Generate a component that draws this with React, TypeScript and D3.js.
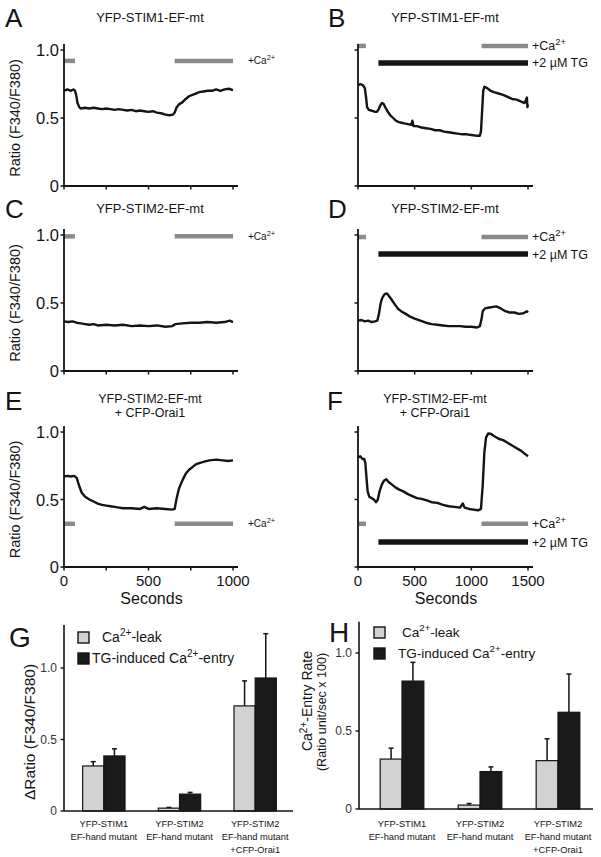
import React from 'react';
import * as d3 from 'd3';

const FONT = "'Liberation Sans', Arial, Helvetica, sans-serif";
const INK = '#141414';
const GREY = '#8a8a8a';

// ---------- Traces: [seconds, ratio F340/F380] ----------
const traceA: [number, number][] = [
  [0, 0.70], [20, 0.71], [40, 0.70], [55, 0.71], [65, 0.70], [72, 0.67], [80, 0.61], [90, 0.58], [100, 0.57],
  [125, 0.575], [150, 0.57], [175, 0.575], [200, 0.57], [225, 0.565], [250, 0.57], [275, 0.565], [300, 0.56],
  [325, 0.565], [350, 0.56], [375, 0.555], [400, 0.56], [425, 0.55], [450, 0.555], [475, 0.55], [500, 0.545],
  [525, 0.55], [550, 0.54], [575, 0.535], [600, 0.525], [625, 0.52], [645, 0.525], [655, 0.54], [665, 0.575],
  [680, 0.60], [700, 0.615], [720, 0.64], [740, 0.66], [760, 0.67], [780, 0.68], [800, 0.69], [825, 0.695],
  [850, 0.70], [875, 0.70], [900, 0.71], [925, 0.70], [950, 0.71], [975, 0.715], [1000, 0.705]
];
const traceB: [number, number][] = [
  [0, 0.74], [20, 0.75], [45, 0.74], [60, 0.72], [70, 0.66], [80, 0.58], [95, 0.56], [115, 0.555], [135, 0.55],
  [150, 0.545], [165, 0.545], [180, 0.56], [195, 0.59], [210, 0.61], [225, 0.605], [240, 0.58], [260, 0.55],
  [285, 0.52], [310, 0.50], [335, 0.48], [360, 0.47], [385, 0.465], [410, 0.46], [440, 0.455], [470, 0.45],
  [480, 0.48], [490, 0.44], [520, 0.44], [560, 0.43], [600, 0.425], [640, 0.42], [680, 0.41], [720, 0.41],
  [760, 0.40], [800, 0.395], [840, 0.39], [880, 0.385], [920, 0.38], [960, 0.38], [1000, 0.375], [1040, 0.37],
  [1075, 0.37], [1085, 0.40], [1095, 0.55], [1105, 0.70], [1115, 0.73], [1140, 0.72], [1170, 0.70], [1200, 0.69],
  [1240, 0.68], [1280, 0.67], [1320, 0.655], [1360, 0.64], [1400, 0.635], [1440, 0.62], [1470, 0.61],
  [1490, 0.65], [1495, 0.58], [1500, 0.60]
];
const traceC: [number, number][] = [
  [0, 0.365], [25, 0.36], [50, 0.365], [75, 0.355], [100, 0.35], [125, 0.345], [150, 0.34], [175, 0.345],
  [200, 0.335], [250, 0.34], [300, 0.335], [350, 0.34], [400, 0.33], [450, 0.335], [500, 0.33], [550, 0.335],
  [600, 0.325], [640, 0.33], [660, 0.345], [700, 0.35], [750, 0.355], [800, 0.355], [850, 0.36], [900, 0.355],
  [950, 0.36], [980, 0.37], [1000, 0.36]
];
const traceD: [number, number][] = [
  [0, 0.37], [30, 0.375], [60, 0.365], [90, 0.37], [120, 0.36], [150, 0.365], [170, 0.37], [185, 0.42],
  [200, 0.50], [215, 0.54], [235, 0.565], [255, 0.57], [275, 0.55], [300, 0.52], [325, 0.49], [350, 0.46],
  [380, 0.44], [420, 0.42], [460, 0.40], [500, 0.385], [550, 0.37], [600, 0.355], [650, 0.345], [700, 0.34],
  [750, 0.335], [800, 0.33], [850, 0.33], [900, 0.33], [950, 0.325], [1000, 0.325], [1050, 0.32], [1075, 0.33],
  [1090, 0.38], [1100, 0.44], [1120, 0.46], [1150, 0.465], [1180, 0.47], [1220, 0.475], [1260, 0.46],
  [1300, 0.44], [1340, 0.43], [1380, 0.43], [1420, 0.42], [1460, 0.425], [1490, 0.44], [1500, 0.43]
];
const traceE: [number, number][] = [
  [0, 0.67], [20, 0.675], [40, 0.67], [60, 0.675], [75, 0.66], [90, 0.60], [105, 0.55], [125, 0.52],
  [150, 0.50], [175, 0.485], [200, 0.47], [225, 0.46], [250, 0.455], [275, 0.45], [300, 0.445], [325, 0.44],
  [350, 0.435], [400, 0.435], [450, 0.43], [475, 0.445], [500, 0.43], [550, 0.435], [600, 0.43], [640, 0.425],
  [655, 0.43], [665, 0.50], [680, 0.58], [700, 0.64], [720, 0.69], [740, 0.72], [760, 0.74], [780, 0.76],
  [800, 0.77], [830, 0.78], [860, 0.79], [900, 0.795], [940, 0.79], [970, 0.785], [1000, 0.79]
];
const traceF: [number, number][] = [
  [0, 0.81], [20, 0.82], [40, 0.80], [55, 0.80], [65, 0.77], [75, 0.66], [85, 0.56], [100, 0.52], [120, 0.51],
  [140, 0.50], [160, 0.48], [175, 0.50], [190, 0.56], [210, 0.61], [230, 0.64], [250, 0.65], [270, 0.63],
  [300, 0.61], [330, 0.59], [360, 0.575], [400, 0.56], [440, 0.54], [480, 0.525], [520, 0.51], [560, 0.505],
  [600, 0.495], [650, 0.48], [700, 0.475], [750, 0.46], [800, 0.45], [850, 0.445], [900, 0.44], [925, 0.47],
  [940, 0.44], [980, 0.43], [1020, 0.425], [1060, 0.42], [1085, 0.43], [1100, 0.60], [1115, 0.85],
  [1130, 0.96], [1150, 0.99], [1175, 0.985], [1200, 0.97], [1240, 0.95], [1280, 0.94], [1320, 0.92],
  [1360, 0.90], [1400, 0.88], [1440, 0.86], [1470, 0.84], [1500, 0.82]
];

// treatment bars [start s, end s]
const caShort: [number, number][] = [[0, 65], [655, 1000]];
const caLong: [number, number][] = [[0, 70], [1090, 1500]];
const tgLong: [number, number][] = [[180, 1500]];

const ticksShort = [0, 250, 500, 750, 1000];
const ticksLong = [0, 500, 1000, 1500];
const yTicks = [0, 0.5, 1.0];

// ---------- Bar charts ----------
const categories = ['STIM1', 'STIM2', 'STIM2+Orai1'];
const catLabels = [
  ['YFP-STIM1', 'EF-hand mutant'],
  ['YFP-STIM2', 'EF-hand mutant'],
  ['YFP-STIM2', 'EF-hand mutant', '+CFP-Orai1']
];
const seriesKeys = ['leak', 'entry'];
const leakG = [0.315, 0.02, 0.735];
const leakErrG = [0.03, 0.005, 0.175];
const entryG = [0.385, 0.118, 0.93];
const entryErrG = [0.05, 0.012, 0.31];
const leakH = [0.32, 0.025, 0.31];
const leakErrH = [0.07, 0.01, 0.14];
const entryH = [0.82, 0.24, 0.62];
const entryErrH = [0.12, 0.03, 0.245];

type Panel = {
  letter: string; lx: number; ly: number;
  title: string[]; tx: number; tyBase: number;
  data: [number, number][]; tMax: number; xTicks: number[];
  x0: number; x1: number; yb: number; yt: number;
  yLabels: boolean; xLabels: boolean;
  ca: [number, number][]; caLevel: number;
  tg?: [number, number][]; tgLevel?: number;
  small: boolean;
};

const panels: Panel[] = [
  { letter: 'A', lx: 5, ly: 27, title: ['YFP-STIM1-EF-mt'], tx: 150, tyBase: 22, data: traceA, tMax: 1000, xTicks: ticksShort,
    x0: 64, x1: 233, yb: 186, yt: 50, yLabels: true, xLabels: false, ca: caShort, caLevel: 0.92, small: true },
  { letter: 'B', lx: 328, ly: 27, title: ['YFP-STIM1-EF-mt'], tx: 445, tyBase: 22, data: traceB, tMax: 1500, xTicks: ticksLong,
    x0: 358, x1: 528, yb: 186, yt: 50, yLabels: false, xLabels: false, ca: caLong, caLevel: 1.03, tg: tgLong, tgLevel: 0.905, small: false },
  { letter: 'C', lx: 5, ly: 218, title: ['YFP-STIM2-EF-mt'], tx: 150, tyBase: 213, data: traceC, tMax: 1000, xTicks: ticksShort,
    x0: 64, x1: 233, yb: 371, yt: 235, yLabels: true, xLabels: false, ca: caShort, caLevel: 0.99, small: true },
  { letter: 'D', lx: 328, ly: 218, title: ['YFP-STIM2-EF-mt'], tx: 445, tyBase: 213, data: traceD, tMax: 1500, xTicks: ticksLong,
    x0: 358, x1: 528, yb: 371, yt: 235, yLabels: false, xLabels: false, ca: caLong, caLevel: 0.985, tg: tgLong, tgLevel: 0.86, small: false },
  { letter: 'E', lx: 5, ly: 410, title: ['YFP-STIM2-EF-mt', '+ CFP-Orai1'], tx: 150, tyBase: 403, data: traceE, tMax: 1000, xTicks: ticksShort,
    x0: 64, x1: 233, yb: 567, yt: 432, yLabels: true, xLabels: true, ca: caShort, caLevel: 0.32, small: true },
  { letter: 'F', lx: 327, ly: 410, title: ['YFP-STIM2-EF-mt', '+ CFP-Orai1'], tx: 435, tyBase: 403, data: traceF, tMax: 1500, xTicks: ticksLong,
    x0: 358, x1: 528, yb: 567, yt: 432, yLabels: false, xLabels: true, ca: caLong, caLevel: 0.32, tg: tgLong, tgLevel: 0.185, small: false }
];

function CaLabel({ x, y, size }: { x: number; y: number; size: number }) {
  return (
    <text x={x} y={y} fontSize={size} fontFamily={FONT} fill={INK}>
      +Ca<tspan dy={-size * 0.4} fontSize={size * 0.75}>2+</tspan>
    </text>
  );
}

function TracePanel({ p }: { p: Panel }) {
  const x = d3.scaleLinear().domain([0, p.tMax]).range([p.x0, p.x1]);
  const y = d3.scaleLinear().domain([0, 1]).range([p.yb, p.yt]);
  const line = d3.line<[number, number]>().x(d => x(d[0])).y(d => y(d[1]));
  const caY = y(p.caLevel);
  const titleSize = p.title.length > 1 ? 12.5 : 13;
  return (
    <g>
      <text x={p.lx} y={p.ly} fontSize={26} fontFamily={FONT} fill={INK}>{p.letter}</text>
      {p.title.map((t, i) => (
        <text key={i} x={p.tx} y={p.tyBase + i * 13.5} fontSize={titleSize} fontFamily={FONT} textAnchor="middle" fill={INK}>{t}</text>
      ))}
      {/* treatment bars */}
      {p.ca.map((b, i) => (
        <line key={'ca' + i} x1={x(b[0])} x2={x(b[1])} y1={caY} y2={caY} stroke={GREY} strokeWidth={4.5} />
      ))}
      <CaLabel x={p.small ? 248 : 532} y={caY + (p.small ? 3.5 : 4)} size={p.small ? 10 : 12.5} />
      {p.tg && p.tgLevel !== undefined && (
        <g>
          {p.tg.map((b, i) => (
            <line key={'tg' + i} x1={x(b[0])} x2={x(b[1])} y1={y(p.tgLevel!)} y2={y(p.tgLevel!)} stroke={INK} strokeWidth={5.5} />
          ))}
          <text x={532} y={y(p.tgLevel) + 4.5} fontSize={12.5} fontFamily={FONT} fill={INK}>+2 µM TG</text>
        </g>
      )}
      {/* trace */}
      <path d={line(p.data) || ''} fill="none" stroke={INK} strokeWidth={2.4} strokeLinejoin="round" />
      {/* axes */}
      <line x1={p.x0} x2={p.x0} y1={y(0) + 1} y2={y(1.045)} stroke={INK} strokeWidth={1.8} />
      <line x1={p.x0 - 1} x2={x(p.tMax) + 5} y1={y(0)} y2={y(0)} stroke={INK} strokeWidth={1.8} />
      {p.xTicks.map(t => (
        <line key={'xt' + t} x1={x(t)} x2={x(t)} y1={y(0)} y2={y(0) + 3.5} stroke={INK} strokeWidth={1.5} />
      ))}
      {yTicks.map(t => (
        <line key={'yt' + t} x1={p.x0 - 3.5} x2={p.x0} y1={y(t)} y2={y(t)} stroke={INK} strokeWidth={1.5} />
      ))}
      {p.yLabels && yTicks.map(t => (
        <text key={'yl' + t} x={p.x0 - 5} y={y(t) + 6} fontSize={16.5} fontFamily={FONT} textAnchor="end" fill={INK}>
          {t === 0 ? '0' : d3.format('.1f')(t)}
        </text>
      ))}
      {p.yLabels && (
        <text transform={`translate(20,${(y(0) + y(1)) / 2}) rotate(-90)`} fontSize={14.5} fontFamily={FONT}
          textAnchor="middle" fill={INK}>Ratio (F340/F380)</text>
      )}
      {p.xLabels && p.xTicks.filter((_, i) => p.tMax === 1500 || i % 2 === 0).map(t => (
        <text key={'xl' + t} x={x(t)} y={y(0) + 19} fontSize={15} fontFamily={FONT} textAnchor="middle" fill={INK}>{t}</text>
      ))}
      {p.xLabels && (
        <text x={(p.x0 + p.x1) / 2 + 3} y={y(0) + 37} fontSize={16} fontFamily={FONT} textAnchor="middle" fill={INK}>Seconds</text>
      )}
    </g>
  );
}

type BarCfg = {
  letter: string; lx: number; ly: number;
  axX0: number; axX1: number; bandX0: number; bandX1: number; yb: number; y1: number; yMax: number;
  leak: number[]; leakErr: number[]; entry: number[]; entryErr: number[];
  legX: number; legY: number; legFont: number; caTextX: number; tgTextX: number;
};

const barCfgs: BarCfg[] = [
  { letter: 'G', lx: 9, ly: 647, axX0: 64, axX1: 293, bandX0: 66, bandX1: 293, yb: 811, y1: 668, yMax: 1.3,
    leak: leakG, leakErr: leakErrG, entry: entryG, entryErr: entryErrG, legX: 78, legY: 632, legFont: 14, caTextX: 102, tgTextX: 92 },
  { letter: 'H', lx: 329, ly: 642, axX0: 359, axX1: 593, bandX0: 363, bandX1: 597, yb: 809, y1: 653, yMax: 1.2,
    leak: leakH, leakErr: leakErrH, entry: entryH, entryErr: entryErrH, legX: 374, legY: 627, legFont: 13.5, caTextX: 402, tgTextX: 398 }
];

function BarPanel({ c }: { c: BarCfg }) {
  const x = d3.scaleBand<string>().domain(categories).range([c.bandX0, c.bandX1]).paddingInner(0.44).paddingOuter(0.22);
  const xs = d3.scaleBand<string>().domain(seriesKeys).range([0, x.bandwidth()]);
  const y = d3.scaleLinear().domain([0, 1]).range([c.yb, c.y1]);
  const bars = categories.flatMap((cat, i) => [
    { cat, key: 'leak', v: c.leak[i], e: c.leakErr[i], fill: '#d2d2d2' },
    { cat, key: 'entry', v: c.entry[i], e: c.entryErr[i], fill: '#1a1a1a' }
  ]);
  const sup = c.legFont * 0.72;
  return (
    <g>
      <text x={c.lx} y={c.ly} fontSize={28} fontFamily={FONT} fill={INK}>{c.letter}</text>
      {bars.map((b, i) => {
        const bx = (x(b.cat) || 0) + (xs(b.key) || 0);
        const w = xs.bandwidth();
        const cx = bx + w / 2;
        return (
          <g key={i}>
            <line x1={cx} x2={cx} y1={y(b.v)} y2={y(b.v + b.e)} stroke={INK} strokeWidth={1.5} />
            <line x1={cx - 2.5} x2={cx + 2.5} y1={y(b.v + b.e)} y2={y(b.v + b.e)} stroke={INK} strokeWidth={1.5} />
            <rect x={bx} y={y(b.v)} width={w} height={y(0) - y(b.v)} fill={b.fill} stroke={INK} strokeWidth={1.2} />
          </g>
        );
      })}
      <line x1={c.axX0} x2={c.axX0} y1={y(0)} y2={y(c.yMax)} stroke={INK} strokeWidth={1.6} />
      <line x1={c.axX0} x2={c.axX1} y1={y(0)} y2={y(0)} stroke={INK} strokeWidth={1.6} />
      {yTicks.map(t => (
        <g key={t}>
          <line x1={c.axX0 - 3.5} x2={c.axX0} y1={y(t)} y2={y(t)} stroke={INK} strokeWidth={1.4} />
          <text x={c.axX0 - 7} y={y(t) + 4.3} fontSize={12} fontFamily={FONT} textAnchor="end" fill="#333">
            {t === 0 ? '0' : d3.format('.1f')(t)}
          </text>
        </g>
      ))}
      {categories.map((cat, i) => (
        <g key={cat}>
          {catLabels[i].map((l, j) => (
            <text key={j} x={(x(cat) || 0) + x.bandwidth() / 2} y={827 + j * 13} fontSize={9.3} fontFamily={FONT}
              textAnchor="middle" fill={INK}>{l}</text>
          ))}
        </g>
      ))}
      {/* legend */}
      <rect x={c.legX} y={c.legY} width={11} height={11} fill="#d2d2d2" stroke={INK} strokeWidth={1.4} />
      <rect x={c.legX} y={c.legY + 21} width={11} height={11} fill="#1a1a1a" stroke={INK} strokeWidth={1.4} />
      <text x={c.caTextX} y={c.legY + 10} fontSize={c.legFont} fontFamily={FONT} fill={INK}>
        Ca<tspan dy={-c.legFont * 0.45} fontSize={sup}>2+</tspan><tspan dy={c.legFont * 0.45}>-leak</tspan>
      </text>
      <text x={c.tgTextX} y={c.legY + 31} fontSize={c.legFont} fontFamily={FONT} fill={INK}>
        TG-induced Ca<tspan dy={-c.legFont * 0.45} fontSize={sup}>2+</tspan><tspan dy={c.legFont * 0.45}>-entry</tspan>
      </text>
    </g>
  );
}

export default function App() {
  return (
    <svg width={601} height={857} viewBox="0 0 601 857"
      style={{ position: 'absolute', left: 0, top: 0, background: '#fff' }}>
      <rect x={0} y={0} width={601} height={857} fill="#fff" />
      {panels.map(p => <TracePanel key={p.letter} p={p} />)}
      {barCfgs.map(c => <BarPanel key={c.letter} c={c} />)}
      {/* bar chart y-axis labels */}
      <text transform="translate(35,732) rotate(-90)" fontSize={15.5} fontFamily={FONT} textAnchor="middle" fill={INK}>
        ΔRatio (F340/F380)
      </text>
      <text transform="translate(312,701) rotate(-90)" fontSize={14} fontFamily={FONT} textAnchor="middle" fill={INK}>
        Ca<tspan dy={-5} fontSize={10}>2+</tspan><tspan dy={5}>-Entry Rate</tspan>
      </text>
      <text transform="translate(326,712) rotate(-90)" fontSize={12.5} fontFamily={FONT} textAnchor="middle" fill={INK}>
        (Ratio unit/sec x 100)
      </text>
    </svg>
  );
}
